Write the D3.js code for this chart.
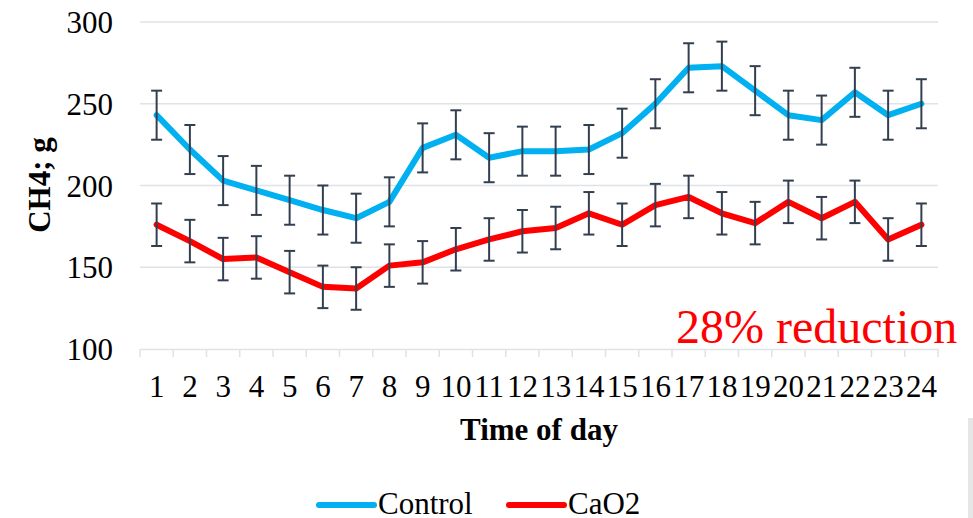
<!DOCTYPE html>
<html>
<head>
<meta charset="utf-8">
<title>CH4 by time of day</title>
<style>
  body { margin: 0; background: #fff; }
  svg { font-family: "Liberation Serif", "Times New Roman", serif; }
  .grid line { stroke: #dfe2e6; stroke-width: 1.5; }
  .tick-label { font-size: 31px; fill: #000; }
  .axis-title { font-size: 31px; font-weight: bold; fill: #000; }
</style>
</head>
<body>
<div id="chart"></div>
<script src="https://cdn.jsdelivr.net/npm/d3@7"></script>
<script>
// hours of the day
var hours = ["1","2","3","4","5","6","7","8","9","10","11","12",
             "13","14","15","16","17","18","19","20","21","22","23","24"];

// CH4, g
var control = [243, 222, 203, 197, 191, 185, 180, 190, 223, 231, 217, 221,
               221, 222, 232, 250, 272, 273, 258, 243, 240, 257, 243, 250];
var controlErr = [15, 15, 15, 15, 15, 15, 15, 15, 15, 15, 15, 15,
                  15, 15, 15, 15, 15, 15, 15, 15, 15, 15, 15, 15];

var cao2 = [176, 166, 155, 156, 147, 138, 137, 151, 153, 161, 167, 172,
            174, 183, 176, 188, 193, 183, 177, 190, 180, 190, 167, 176];
var cao2Err = [13, 13, 13, 13, 13, 13, 13, 13, 13, 13, 13, 13,
               13, 13, 13, 13, 13, 13, 13, 13, 13, 13, 13, 13];

var yTicks = [100, 150, 200, 250, 300];

var series = [
  {name: "Control", values: control, err: controlErr, color: "#00b0f0"},
  {name: "CaO2", values: cao2, err: cao2Err, color: "#ff0000"}
];

var width = 973, height = 518;
var plotLeft = 140, plotRight = 938, plotTop = 22, plotBottom = 349;

var svg = d3.select("#chart").append("svg")
  .attr("width", width)
  .attr("height", height);

var x = d3.scaleBand().domain(hours).range([plotLeft, plotRight]).padding(0);
var y = d3.scaleLinear().domain([100, 300]).range([plotBottom, plotTop]);

// horizontal gridlines
svg.append("g").attr("class", "grid")
  .selectAll("line")
  .data(yTicks.filter(function(d) { return d > 100; }))
  .enter().append("line")
  .attr("x1", plotLeft).attr("x2", plotRight)
  .attr("y1", function(d) { return y(d); })
  .attr("y2", function(d) { return y(d); });

// y tick labels
svg.append("g")
  .selectAll("text")
  .data(yTicks)
  .enter().append("text")
  .attr("class", "tick-label")
  .attr("x", 113)
  .attr("y", function(d) { return y(d) + 11; })
  .attr("text-anchor", "end")
  .text(function(d) { return d; });

// x axis: base line, ticks between categories, labels
var xAxis = d3.axisBottom(x).tickSize(0).tickSizeOuter(0).tickPadding(0);
var gx = svg.append("g").attr("transform", "translate(0," + plotBottom + ")").call(xAxis);
gx.attr("font-family", null).attr("font-size", null);
gx.select(".domain").attr("stroke", "#dfe2e6").attr("stroke-width", 1.5);
gx.selectAll(".tick text")
  .attr("class", "tick-label")
  .attr("y", 48)
  .attr("dy", null);

var boundaries = hours.map(function(h) { return x(h); }).concat([plotRight]);
svg.append("g")
  .selectAll("line")
  .data(boundaries)
  .enter().append("line")
  .attr("x1", function(d) { return d; })
  .attr("x2", function(d) { return d; })
  .attr("y1", plotBottom)
  .attr("y2", plotBottom + 8)
  .attr("stroke", "#dfe2e6")
  .attr("stroke-width", 1.5);

var cx = function(i) { return x(hours[i]) + x.bandwidth() / 2; };

// lines
var line = d3.line()
  .x(function(d, i) { return cx(i); })
  .y(function(d) { return y(d); });

series.forEach(function(s) {
  svg.append("path")
    .datum(s.values)
    .attr("d", line)
    .attr("fill", "none")
    .attr("stroke", s.color)
    .attr("stroke-width", 6)
    .attr("stroke-linejoin", "round")
    .attr("stroke-linecap", "round");
});

// error bars
series.forEach(function(s) {
  var g = svg.append("g").attr("stroke", "#333f50").attr("stroke-width", 2);
  s.values.forEach(function(v, i) {
    var hi = y(v + s.err[i]), lo = y(v - s.err[i]), xc = cx(i);
    g.append("line").attr("x1", xc).attr("x2", xc).attr("y1", hi).attr("y2", lo);
    g.append("line").attr("x1", xc - 5.5).attr("x2", xc + 5.5).attr("y1", hi).attr("y2", hi);
    g.append("line").attr("x1", xc - 5.5).attr("x2", xc + 5.5).attr("y1", lo).attr("y2", lo);
  });
});

// axis titles
svg.append("text")
  .attr("class", "axis-title")
  .attr("transform", "translate(50,185) rotate(-90)")
  .attr("text-anchor", "middle")
  .text("CH4; g");

svg.append("text")
  .attr("class", "axis-title")
  .attr("x", 539)
  .attr("y", 440)
  .attr("text-anchor", "middle")
  .text("Time of day");

// annotation
svg.append("text")
  .attr("x", 676)
  .attr("y", 343)
  .attr("font-size", 48)
  .attr("fill", "#ff0000")
  .text("28% reduction");

// legend
var legendX = [319, 509];
series.forEach(function(s, i) {
  svg.append("line")
    .attr("x1", legendX[i]).attr("x2", legendX[i] + 55)
    .attr("y1", 505).attr("y2", 505)
    .attr("stroke", s.color)
    .attr("stroke-width", 6)
    .attr("stroke-linecap", "round");
  svg.append("text")
    .attr("class", "tick-label")
    .attr("x", legendX[i] + 59)
    .attr("y", 514)
    .text(s.name);
});

// grey strip at right edge of the picture
svg.append("rect")
  .attr("x", 968).attr("y", 418)
  .attr("width", 5).attr("height", 100)
  .attr("fill", "#e6e6e6");
</script>
</body>
</html>
